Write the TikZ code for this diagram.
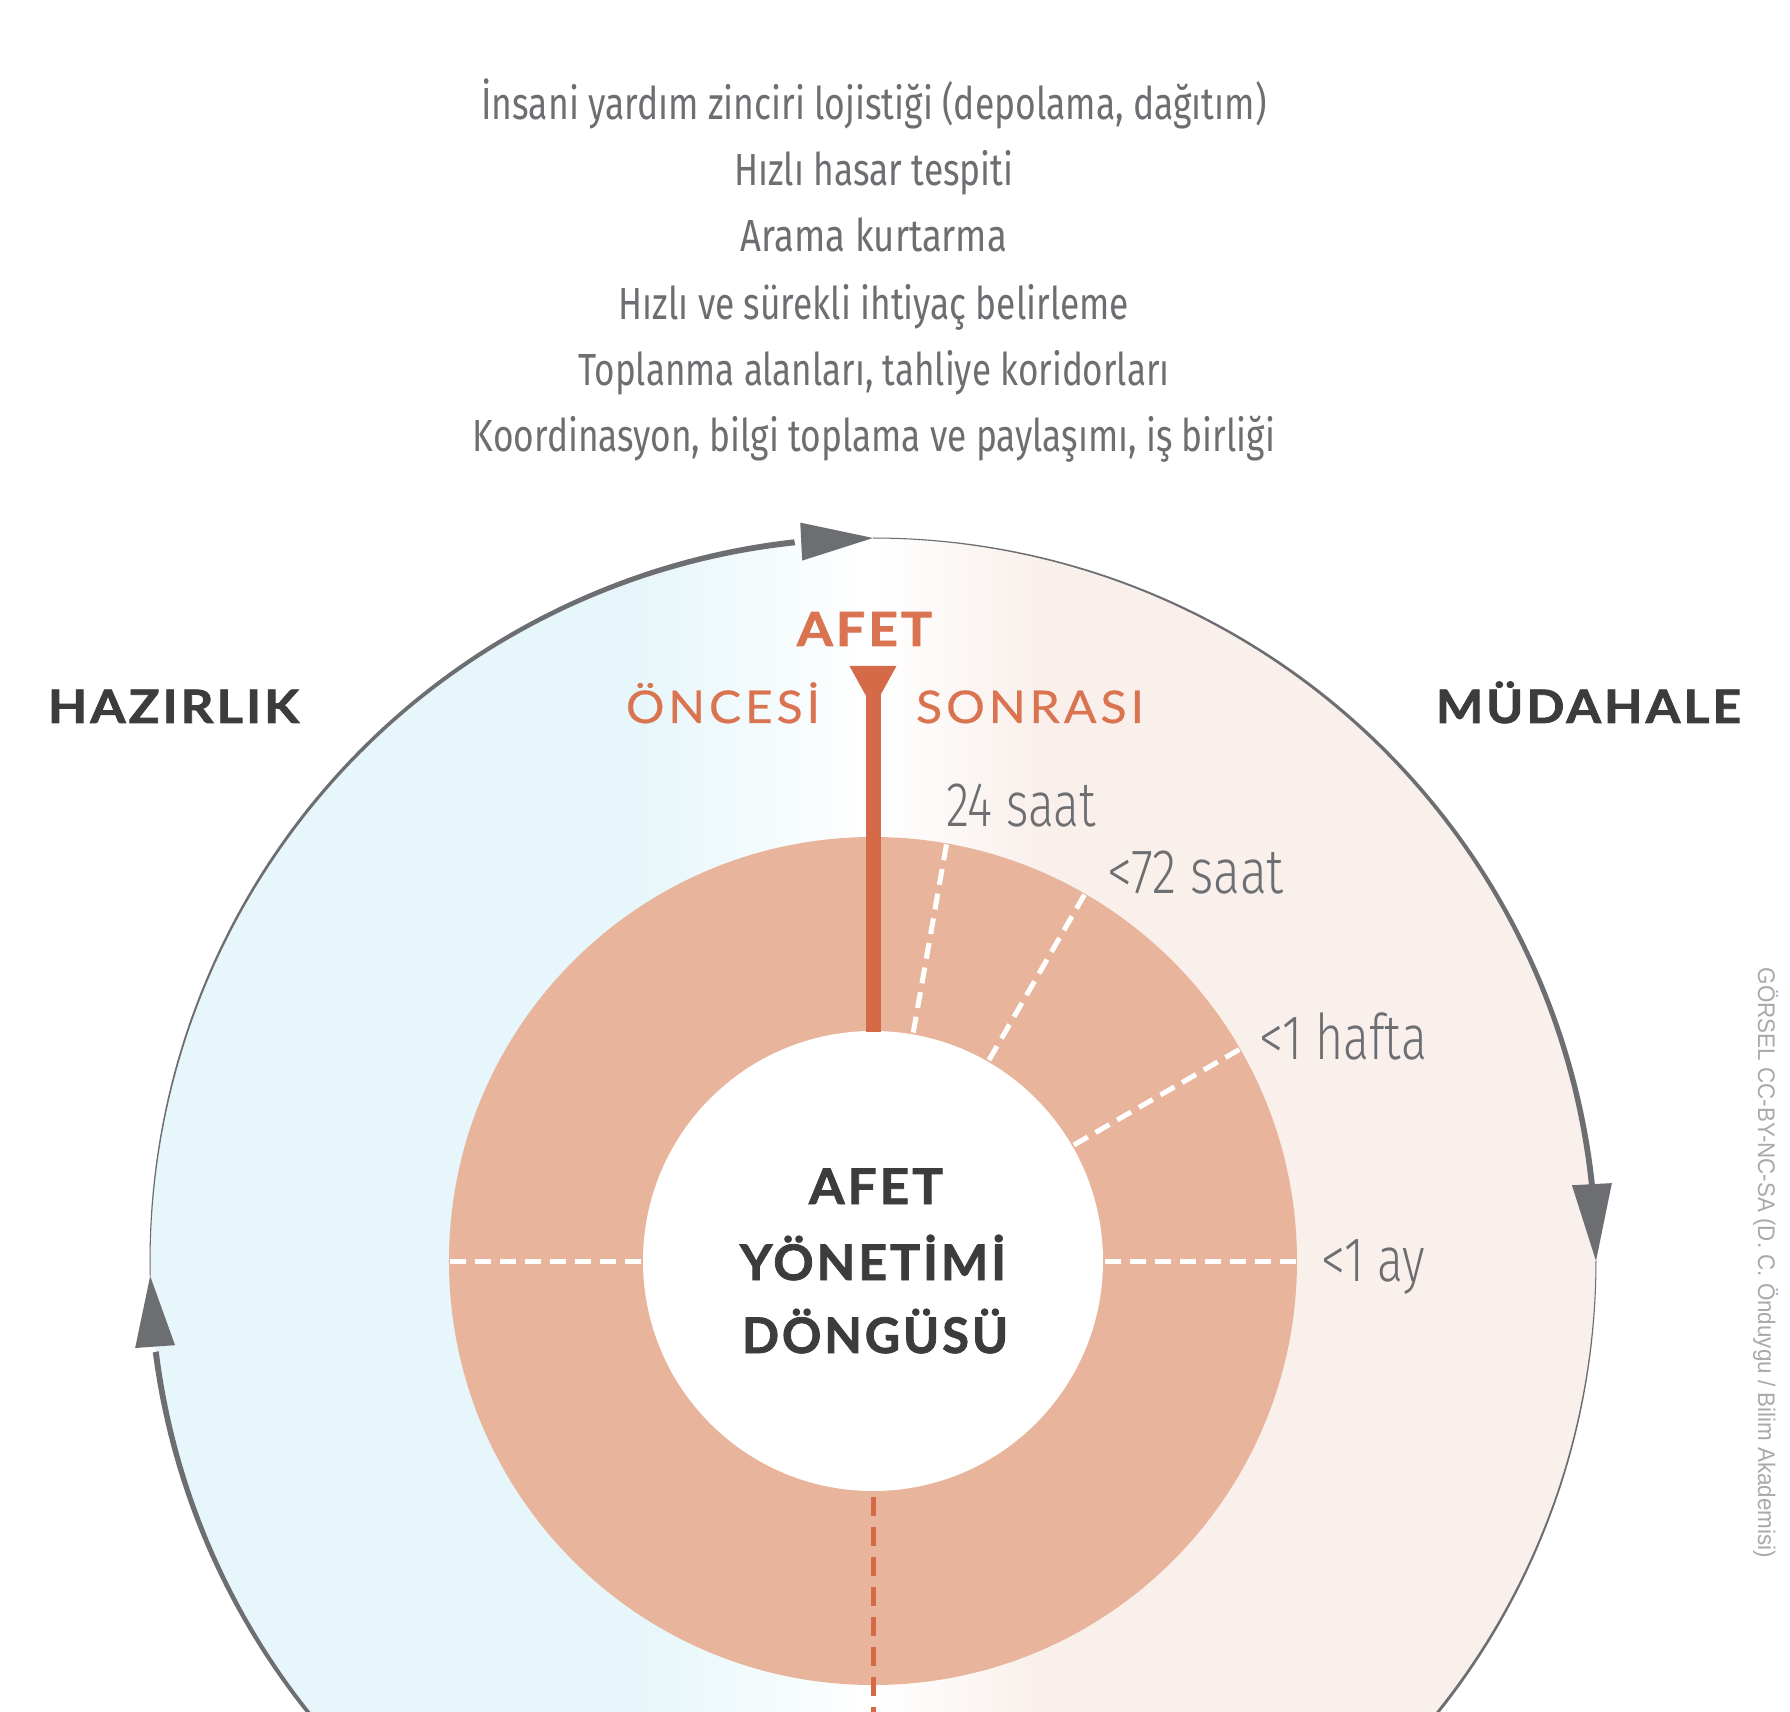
\documentclass[tikz,border=0pt]{standalone}
\usepackage{fontspec}
\usepackage{graphicx}
\usetikzlibrary{calc}
\newfontfamily\topfont{Fira Sans}
\newfontfamily\lightfont{Fira Sans}[UprightFont={* Light}]
\newfontfamily\heavyfont{Lato}[LetterSpace=6,BoldFeatures={FakeBold=1.6}]
\newfontfamily\medfont{Lato}[LetterSpace=8,UprightFeatures={FakeBold=0.4}]
\newfontfamily\credfont{Liberation Sans}
\definecolor{topgray}{HTML}{6D6E71}
\definecolor{darktxt}{HTML}{3C3C3C}
\definecolor{orangetxt}{HTML}{DA7350}
\definecolor{barc}{HTML}{D56A48}
\definecolor{ringc}{HTML}{E8B59C}
\definecolor{bgblue}{HTML}{E6F6FA}
\definecolor{bgpink}{HTML}{F9F0EC}
\definecolor{arrowc}{HTML}{6D6E71}
\definecolor{credc}{HTML}{A7A9AC}
\newcommand\fitw[2]{\resizebox{#1pt}{\height}{#2}}
\newcommand\taperarc[2]{%
  \fill[arrowc] plot[domain=0:1,samples=90,variable=\q]
    ({(723+(1+5*\q^1.2)/2)*cos(#1+(#2-#1)*\q)},{(723+(1+5*\q^1.2)/2)*sin(#1+(#2-#1)*\q)})
    -- plot[domain=1:0,samples=90,variable=\q]
    ({(723-(1+5*\q^1.2)/2)*cos(#1+(#2-#1)*\q)},{(723-(1+5*\q^1.2)/2)*sin(#1+(#2-#1)*\q)})
    -- cycle;}
\newcommand\arrhead[4]{% name, tip angle, base angle, half width
  \coordinate (#1tip) at (#2:723);
  \coordinate (#1base) at (#3:723);
  \fill[arrowc] (#1tip) -- ($(#1base)!#4pt!90:(#1tip)$) -- ($(#1base)!#4pt!-90:(#1tip)$) -- cycle;}
\begin{document}
\begin{tikzpicture}[x=1pt,y=1pt,
  lbl/.style={inner sep=0pt,outer sep=0pt},
  toptxt/.style={lbl,anchor=base,text=topgray,font=\topfont\fontsize{45}{45}\selectfont},
  timetxt/.style={lbl,anchor=base west,text=topgray,font=\lightfont\fontsize{63}{63}\selectfont},
  phasetxt/.style={lbl,anchor=base west,text=darktxt,font=\heavyfont\bfseries\fontsize{46}{46}\selectfont},
  centertxt/.style={lbl,anchor=base,text=darktxt,font=\heavyfont\bfseries\fontsize{49}{49}\selectfont},
  sidetxt/.style={lbl,anchor=base west,text=orangetxt,font=\medfont\fontsize{45}{45}\selectfont},
  wdash/.style={white,line width=5pt,dash pattern=on 16pt off 9pt},
  odash/.style={barc,line width=5pt,dash pattern=on 19pt off 11pt}]
\useasboundingbox (-873,-450) rectangle (917,1261);
\fill[white] (-873,-450) rectangle (917,1261);
% background disc
\begin{scope}
  \clip (0,0) circle (723);
  \fill[bgblue] (-730,-730) rectangle (-239,730);
  \shade[left color=bgblue,right color=white] (-240,-730) rectangle (-4,730);
  \fill[white] (-5,-730) rectangle (5,730);
  \shade[left color=white,right color=bgpink] (4,-730) rectangle (160,730);
  \fill[bgpink] (159,-730) rectangle (730,730);
\end{scope}
% ring
\fill[ringc] (0,0) circle (424);
\fill[white] (0,0) circle (230);
\foreach \a in {80,60,30,0,180} \draw[wdash] (\a:423) -- (\a:231);
% event bar
\fill[barc] (-7.5,229) rectangle (7.5,570);
\fill[barc] (-23.5,595) -- (23.5,595) -- (7.5,566) -- (-7.5,566) -- cycle;
\draw[odash] (0,-236) -- (0,-455);
% cycle arrows
\taperarc{90}{5.5}
\taperarc{0}{-83.7}
\taperarc{270}{187.2}
\taperarc{181.2}{96.2}
\arrhead{ar}{0}{6.1}{20}
\arrhead{ab}{270}{275.8}{20}
\arrhead{al}{181.2}{186.8}{20}
\arrhead{at}{90}{95.7}{19}
% top list
\node[toptxt] (t1) at (1,1141) {\fitw{785}{İnsani yardım zinciri lojistiği (depolama, dağıtım)}};
\node[toptxt] (t2) at (1,1075) {\fitw{279}{Hızlı hasar tespiti}};
\node[toptxt] (t3) at (1,1009) {\fitw{266}{Arama kurtarma}};
\node[toptxt] (t4) at (1,941) {\fitw{510}{Hızlı ve sürekli ihtiyaç belirleme}};
\node[toptxt] (t5) at (1,875) {\fitw{591}{Toplanma alanları, tahliye koridorları}};
\node[toptxt] (t6) at (1,809) {\fitw{802}{Koordinasyon, bilgi toplama ve paylaşımı, iş birliği}};
% phase labels
\node[phasetxt] (hz) at (-825,538) {\fitw{251}{HAZIRLIK}};
\node[phasetxt] (md) at (563,538) {\fitw{305}{MÜDAHALE}};
\node[lbl,anchor=base west,text=orangetxt,font=\heavyfont\bfseries\fontsize{47}{47}\selectfont] (af) at (-76,615) {\fitw{135}{AFET}};
\node[sidetxt] (on) at (-247,538) {\fitw{194}{ÖNCESİ}};
\node[sidetxt] (so) at (43,538) {\fitw{228}{SONRASI}};
% time labels
\node[timetxt] (h24) at (73,434) {\fitw{150}{24 saat}};
\node[timetxt] (h72) at (234,367) {\fitw{177}{<72 saat}};
\node[timetxt] (w1) at (386,202) {\fitw{168}{<1 hafta}};
\node[timetxt] (m1) at (448,-20) {\fitw{104}{<1 ay}};
% center
\node[centertxt] (c1) at (3,57) {\fitw{134}{AFET}};
\node[centertxt] (c2) at (0,-19) {\fitw{266}{YÖNETİMİ}};
\node[centertxt] (c3) at (2,-92) {\fitw{266}{DÖNGÜSÜ}};
% credit
\node[lbl,anchor=base west,rotate=-90,text=credc,font=\credfont\fontsize{24}{24}\selectfont] (cr) at (885,293) {\fitw{590}{GÖRSEL CC-BY-NC-SA (D. C. Önduygu / Bilim Akademisi)}};
\end{tikzpicture}
\end{document}
